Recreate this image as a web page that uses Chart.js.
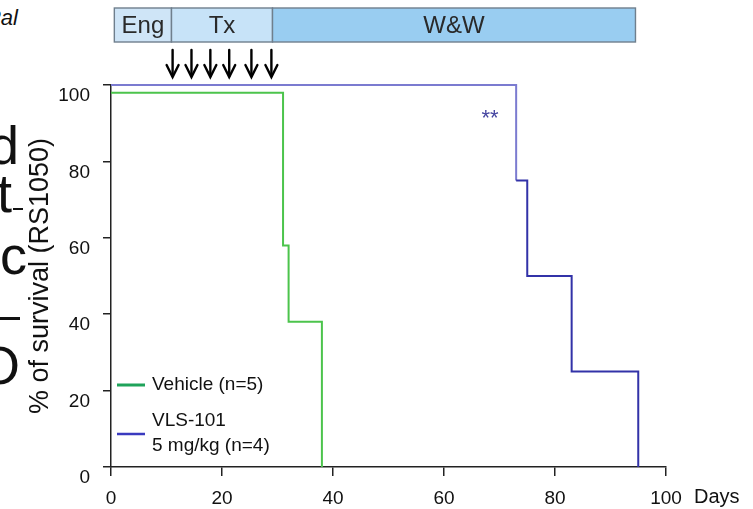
<!DOCTYPE html>
<html>
<head>
<meta charset="utf-8">
<script src="https://cdn.jsdelivr.net/npm/chart.js@4.4.1/dist/chart.umd.min.js"></script>
<style>
  html, body { margin: 0; padding: 0; background: #fff; }
  #wrap { position: relative; width: 753px; height: 509px; overflow: hidden; }
  #wrap canvas { position: absolute; left: 0; top: 0; }
  .frag { position: absolute; font-family: "Liberation Sans", Arial, sans-serif; color: #111; line-height: 1; white-space: nowrap; }
</style>
</head>
<body>
<div id="wrap">
  <!-- bruchstuecke vom nachbarpanel links -->
  <span class="frag" style="left:-14px; top:7px; font-size:22px; font-style:italic;">Pal</span>
  <span class="frag" style="left:-11px; top:118px; font-size:54px;">d</span>
  <span class="frag" style="left:-3px; top:166px; font-size:54px;">t</span>
  <span class="frag" style="left:13px; top:208px; width:10px; height:2px; background:#111;"></span>
  <span class="frag" style="left:-36px; top:228px; font-size:54px;">Ac</span>
  <span class="frag" style="left:0px; top:317px; width:20px; height:3px; background:#111;"></span>
  <span class="frag" style="left:-22px; top:338px; font-size:54px;">O</span>
  <canvas id="km" width="753" height="509"></canvas>
</div>
<script>
  // ── Daten ────────────────────────────────────────────────────────────────
  const vehicleDays = [0, 31, 32, 38];
  const vehicleSurv = [98, 58, 38, 0];
  const vlsDays     = [0, 73, 75, 83, 95];
  const vlsSurv     = [100, 75, 50, 25, 0];

  const xTicks = [0, 20, 40, 60, 80, 100];
  const yTicks = [0, 20, 40, 60, 80, 100];

  const phaseLabels = ["Eng", "Tx", "W&W"];
  const phaseStart  = [0.6, 10.9, 29.1];
  const phaseEnd    = [10.9, 29.1, 94.5];
  const phaseFill   = ["#cfe5f7", "#c7e3f8", "#99cdf1"];

  const doseDays = [11.1, 14.5, 17.9, 21.3, 25.3, 28.9];

  const FONT = '"Liberation Sans", Arial, sans-serif';
  const GREEN = "#4cc44c";
  const BLUE  = "#3232a8";

  // ── Phasenbalken + Pfeile oben ───────────────────────────────────────────
  const topBar = {
    id: "topBar",
    afterDraw(chart) {
      const { ctx } = chart;
      const x = chart.scales.x;
      ctx.save();
      phaseLabels.forEach((lab, i) => {
        const x0 = x.getPixelForValue(phaseStart[i]);
        const x1 = x.getPixelForValue(phaseEnd[i]);
        ctx.fillStyle = phaseFill[i];
        ctx.fillRect(x0, 8, x1 - x0, 34);
        ctx.strokeStyle = "#6f7f8d";
        ctx.lineWidth = 1.4;
        ctx.strokeRect(x0, 8, x1 - x0, 34);
        ctx.fillStyle = "#2a2a2a";
        ctx.font = "24px " + FONT;
        ctx.textAlign = "center";
        ctx.textBaseline = "middle";
        ctx.fillText(lab, (x0 + x1) / 2, 26);
      });
      ctx.strokeStyle = "#000";
      ctx.lineWidth = 2.4;
      ctx.lineCap = "round";
      doseDays.forEach(d => {
        const px = x.getPixelForValue(d);
        ctx.beginPath();
        ctx.moveTo(px, 50);
        ctx.lineTo(px, 76);
        ctx.stroke();
        ctx.beginPath();
        ctx.moveTo(px - 6, 65);
        ctx.lineTo(px, 77);
        ctx.lineTo(px + 6, 65);
        ctx.stroke();
      });
      ctx.restore();
    },
  };

  // ── Legende, Sterne, "Days" ──────────────────────────────────────────────
  const extras = {
    id: "extras",
    afterDraw(chart) {
      const { ctx, chartArea: a } = chart;
      ctx.save();
      ctx.font = "19px " + FONT;
      ctx.textBaseline = "middle";
      ctx.textAlign = "left";

      ctx.lineWidth = 3;
      ctx.strokeStyle = "#1fa35a";
      ctx.beginPath(); ctx.moveTo(a.left + 6, a.top + 300); ctx.lineTo(a.left + 34, a.top + 300); ctx.stroke();
      ctx.fillStyle = "#111";
      ctx.fillText("Vehicle (n=5)", a.left + 41, a.top + 300);

      ctx.strokeStyle = "#3a3abf";
      ctx.lineWidth = 2.5;
      ctx.beginPath(); ctx.moveTo(a.left + 6, a.top + 349); ctx.lineTo(a.left + 34, a.top + 349); ctx.stroke();
      ctx.fillText("VLS-101", a.left + 41, a.top + 336);
      ctx.fillText("5 mg/kg (n=4)", a.left + 41, a.top + 361);

      ctx.fillStyle = "#4545a0";
      ctx.font = "22px " + FONT;
      ctx.textAlign = "center";
      ctx.fillText("**", chart.scales.x.getPixelForValue(68.3), a.top + 34);

      ctx.fillStyle = "#111";
      ctx.font = "20px " + FONT;
      ctx.textAlign = "left";
      ctx.fillText("Days", a.right + 28, a.bottom + 30);
      ctx.restore();
    },
  };

  new Chart(document.getElementById("km"), {
    type: "line",
    data: {
      datasets: [
        {
          label: "Vehicle (n=5)",
          data: vehicleDays.map((d, i) => ({ x: d, y: vehicleSurv[i] })),
          borderColor: GREEN,
          borderWidth: 2,
          pointRadius: 0,
          stepped: true,
          fill: false,
        },
        {
          label: "VLS-101 5 mg/kg (n=4)",
          data: vlsDays.map((d, i) => ({ x: d, y: vlsSurv[i] })),
          borderColor: BLUE,
          borderWidth: 2,
          pointRadius: 0,
          stepped: true,
          fill: false,
          segment: {
            borderColor: c => (c.p0DataIndex === 0 ? "#7b7bd0" : undefined),
          },
        },
      ],
    },
    options: {
      responsive: false,
      animation: false,
      clip: false,
      layout: { padding: { top: 85, right: 87, left: 0, bottom: 0 } },
      plugins: { legend: { display: false }, tooltip: { enabled: false } },
      scales: {
        x: {
          type: "linear",
          min: 0,
          max: 100,
          afterBuildTicks: s => { s.ticks = xTicks.map(v => ({ value: v })); },
          afterFit: s => { s.height = 42; },
          grid: { drawOnChartArea: false, drawTicks: true, tickLength: 9, tickColor: "#222", lineWidth: 1.5 },
          border: { display: true, color: "#222", width: 1.5 },
          ticks: { color: "#111", font: { family: FONT, size: 19 }, padding: 11, maxRotation: 0 },
        },
        y: {
          type: "linear",
          min: 0,
          max: 100,
          afterBuildTicks: s => { s.ticks = yTicks.map(v => ({ value: v })); },
          afterFit: s => { s.width = 111; },
          grid: { drawOnChartArea: false, drawTicks: true, tickLength: 8, tickColor: "#222", lineWidth: 1.5 },
          border: { display: true, color: "#222", width: 1.5 },
          ticks: { color: "#111", font: { family: FONT, size: 19 }, padding: 13, labelOffset: 11 },
          title: {
            display: true,
            text: "% of survival (RS1050)",
            color: "#111",
            font: { family: FONT, size: 27 },
            padding: { top: 24, bottom: 0 },
          },
        },
      },
    },
    plugins: [topBar, extras],
  });
</script>
</body>
</html>
